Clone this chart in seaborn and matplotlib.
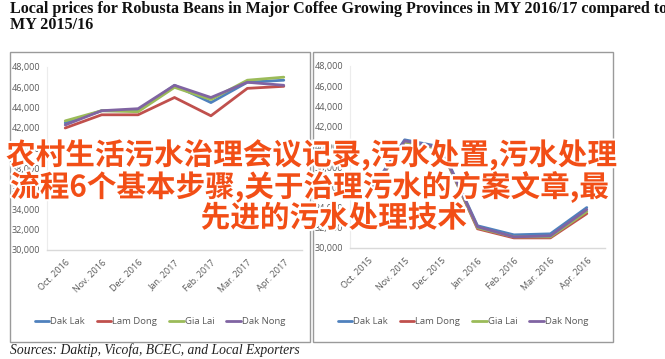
import matplotlib
matplotlib.use("Agg")
import matplotlib.pyplot as plt
import matplotlib.patheffects as pe
from matplotlib.patches import Rectangle
import pandas as pd
import seaborn as sns

provinces = ["Dak Lak", "Lam Dong", "Gia Lai", "Dak Nong"]
colors = ["#4f81bd", "#c0504d", "#9bbb59", "#8064a2"]

months_1617 = ["Oct. 2016", "Nov. 2016", "Dec. 2016", "Jan. 2017", "Feb. 2017", "Mar. 2017", "Apr. 2017"]
dak_lak_1617 = [42500, 43700, 43700, 46200, 44500, 46500, 46700]
lam_dong_1617 = [42000, 43300, 43300, 45000, 43200, 45900, 46100]
gia_lai_1617 = [42700, 43700, 43600, 46000, 44800, 46700, 47000]
dak_nong_1617 = [42300, 43700, 43900, 46200, 45000, 46500, 46200]

months_1516 = ["Oct. 2015", "Nov. 2015", "Dec. 2015", "Jan. 2016", "Feb. 2016", "Mar. 2016", "Apr. 2016"]
dak_lak_1516 = [35300, 40700, 40000, 32200, 31300, 31400, 34000]
lam_dong_1516 = [35000, 40500, 39800, 31900, 31000, 31000, 33400]
gia_lai_1516 = [35100, 40500, 39800, 32000, 31100, 31100, 33600]
dak_nong_1516 = [35200, 40600, 39900, 32100, 31100, 31200, 33800]

title = "Local prices for Robusta Beans in Major Coffee Growing Provinces in MY 2016/17 compared to\nMY 2015/16"
source = "Sources: Daktip, Vicofa, BCEC, and Local Exporters"
overlay_lines = ["农村生活污水治理会议记录,污水处置,污水处理",
                 "流程6个基本步骤,关于治理污水的方案文章,最",
                 "先进的污水处理技术"]


def to_long(months, series):
    rows = []
    for name, vals in zip(provinces, series):
        for m, v in zip(months, vals):
            rows.append({"month": m, "price": v, "province": name})
    return pd.DataFrame(rows)


df_1617 = to_long(months_1617, [dak_lak_1617, lam_dong_1617, gia_lai_1617, dak_nong_1617])
df_1516 = to_long(months_1516, [dak_lak_1516, lam_dong_1516, gia_lai_1516, dak_nong_1516])

sns.set_theme(style="white")
plt.rcParams["font.family"] = ["Open Sans", "DejaVu Sans"]

W, H = 665, 359
fig = plt.figure(figsize=(W / 100, H / 100), dpi=100)


def px(x0, y0, x1, y1):
    return [x0 / W, 1 - y1 / H, (x1 - x0) / W, (y1 - y0) / H]


# panel frames
for x0, x1 in [(10, 310), (313, 613)]:
    fig.patches.append(Rectangle((x0 / W, 1 - 342 / H), (x1 - x0) / W, 290 / H,
                                 transform=fig.transFigure, fill=False,
                                 edgecolor="#9a9a9a", linewidth=1.0))

panels = [(df_1617, months_1617, px(47, 67, 302, 250), 160),
          (df_1516, months_1516, px(350, 66, 605, 248), 463)]

for df, months, rect, lx in panels:
    ax = fig.add_axes(rect)
    sns.lineplot(data=df, x="month", y="price", hue="province", hue_order=provinces,
                 palette=colors, sort=False, linewidth=2.0, ax=ax)
    ax.set_ylim(30000, 48000)
    ax.set_xlim(-0.5, 6.5)
    ax.set_yticks(range(30000, 48001, 2000))
    ax.set_yticklabels([f"{v:,}" for v in range(30000, 48001, 2000)])
    ax.set_xticks(range(len(months)))
    ax.set_xticklabels(months, rotation=45, ha="right", rotation_mode="anchor")
    ax.tick_params(axis="both", length=0, labelsize=6.5, labelcolor="#595959")
    ax.tick_params(axis="x", pad=6)
    ax.tick_params(axis="y", pad=5)
    ax.set_xlabel("")
    ax.set_ylabel("")
    for s in ["top", "right"]:
        ax.spines[s].set_visible(False)
    ax.spines["bottom"].set_color("#d9d9d9")
    ax.spines["left"].set_color("#ececec")
    ax.spines["bottom"].set_linewidth(1.0)
    ax.spines["left"].set_linewidth(0.8)
    ax.patch.set_alpha(0)
    handles, labels = ax.get_legend_handles_labels()
    ax.legend(handles, labels, loc="center", bbox_to_anchor=(lx / W, 1 - 322 / H),
              bbox_transform=fig.transFigure, ncol=4, frameon=False, fontsize=6.8,
              handlelength=1.5, handletextpad=0.1, columnspacing=1.3,
              labelcolor="#595959")

fig.text(10 / W, 1 - 1 / H, title, ha="left", va="top", family="Liberation Serif",
         fontweight="bold", fontsize=11.6, color="#111111", linespacing=1.0)
fig.text(10 / W, 1 - 350 / H, source, ha="left", va="center", family="Liberation Serif",
         style="italic", fontsize=9.8, color="#222222")

# overlay caption lines: centre x and centre y in pixels
for line, cx, cy in zip(overlay_lines, [312, 310, 334], [155, 187, 218]):
    fig.text(cx / W, 1 - cy / H, line, ha="center", va="center",
             family=["Noto Sans CJK SC", "DejaVu Sans"], fontsize=21.3, fontweight="bold",
             color="#f24e16",
             path_effects=[pe.withStroke(linewidth=3, foreground="white")])

fig.savefig("out.png", dpi=100)
